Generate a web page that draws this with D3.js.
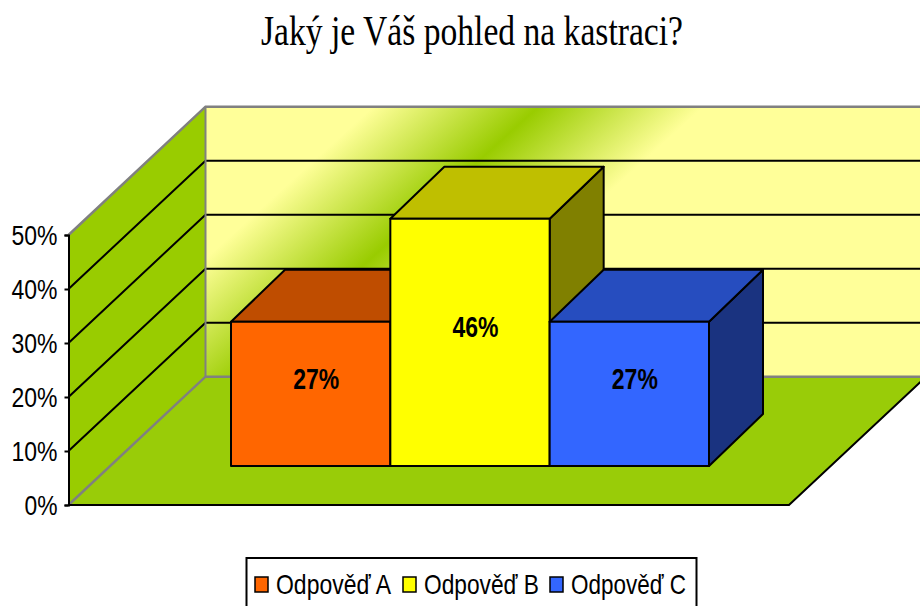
<!DOCTYPE html>
<html><head><meta charset="utf-8">
<script src="https://cdnjs.cloudflare.com/ajax/libs/d3/7.8.5/d3.min.js"></script>
<style>html,body{margin:0;padding:0;background:#fff;overflow:hidden}svg{display:block}</style>
</head><body><div id="c"></div>
<script>
const title = "Jaký je Váš pohled na kastraci?";
const categories = ["Odpověď A", "Odpověď B", "Odpověď C"];
const values = [26.7, 45.8, 26.7];
const labels = ["27%", "46%", "27%"];
const ticks = [0, 10, 20, 30, 40, 50];
const front = ["#FF6600", "#FFFF00", "#3366FF"];
const topC = ["#BF4D00", "#BFBF00", "#264DBF"];
const side = ["#802600", "#808000", "#1A3380"];

const W = 920, H = 606;
const svg = d3.select("#c").append("svg").attr("width", W).attr("height", H);
const defs = svg.append("defs");
const g = defs.append("linearGradient").attr("id", "wall").attr("gradientUnits", "userSpaceOnUse")
  .attr("x1", 462.5).attr("y1", 25.8).attr("x2", 611.5).attr("y2", 190.2);
[[0, "#FFFF99"], [0.5, "#99CC00"], [1, "#FFFF99"]].forEach(s => g.append("stop").attr("offset", s[0]).attr("stop-color", s[1]));

const y = d3.scaleLinear().domain([0, 50]).range([505, 235]);
const wallDx = 137, wallDy = -128.3, plotL = 68.5, plotR = 789;
const x = d3.scaleBand().domain(categories).range([231, 709]);
const barBase = 466, barDx = 54, barDy = -52;
const poly = p => p.map(d => d.join(",")).join(" ");
const stretched = (sel, len) => sel.attr("textLength", len).attr("lengthAdjust", "spacingAndGlyphs");

// title
stretched(svg.append("text").attr("x", 472).attr("y", 45).attr("text-anchor", "middle")
  .attr("font-family", "Liberation Serif").attr("font-size", 42).attr("fill", "#000").text(title), 422);

// back wall, side wall, floor
const yT = y(50), y0 = y(0);
svg.append("polygon").attr("points", poly([[plotL + wallDx, y0 + wallDy], [W + 10, y0 + wallDy], [W + 10, yT + wallDy], [plotL + wallDx, yT + wallDy]]))
  .attr("fill", "url(#wall)");
svg.append("polygon").attr("points", poly([[plotL, y0], [plotL + wallDx, y0 + wallDy], [plotL + wallDx, yT + wallDy], [plotL, yT]]))
  .attr("fill", "#99CC00");
svg.append("polygon").attr("points", poly([[plotL, y0], [plotR, y0], [plotR + wallDx, y0 + wallDy], [plotL + wallDx, y0 + wallDy]]))
  .attr("fill", "#99CC08");

// gridlines
ticks.slice(1, -1).forEach(t => {
  svg.append("polyline").attr("points", poly([[plotL, y(t)], [plotL + wallDx, y(t) + wallDy], [W + 10, y(t) + wallDy]]))
    .attr("fill", "none").attr("stroke", "#000").attr("stroke-width", 2);
});
// grey frame
svg.append("polyline").attr("points", poly([[plotL, yT], [plotL + wallDx, yT + wallDy], [W + 10, yT + wallDy]]))
  .attr("fill", "none").attr("stroke", "#808080").attr("stroke-width", 2.5);
svg.append("polyline").attr("points", poly([[plotL, y0], [plotL + wallDx, y0 + wallDy], [W + 10, y0 + wallDy]]))
  .attr("fill", "none").attr("stroke", "#808080").attr("stroke-width", 2.5);
svg.append("line").attr("x1", plotL + wallDx).attr("x2", plotL + wallDx).attr("y1", y0 + wallDy).attr("y2", yT + wallDy)
  .attr("stroke", "#808080").attr("stroke-width", 2);
// floor edges
svg.append("polyline").attr("points", poly([[plotL, y0], [plotR, y0], [plotR + wallDx, y0 + wallDy]]))
  .attr("fill", "none").attr("stroke", "#000").attr("stroke-width", 2);

// y axis
const axis = d3.axisLeft(y).tickValues(ticks).tickSize(4).tickFormat(d => d + "%");
const ax = svg.append("g").attr("transform", `translate(${plotL},0)`).call(axis);
ax.select(".domain").attr("stroke", "#000").attr("stroke-width", 2);
ax.selectAll(".tick line").attr("stroke", "#000").attr("stroke-width", 2);
ax.selectAll(".tick text").attr("font-family", "Liberation Sans").attr("font-size", 28).attr("fill", "#000")
  .attr("x", -11).attr("dy", "0.34em")
  .attr("textLength", d => d === 0 ? 33 : 46).attr("lengthAdjust", "spacingAndGlyphs");

// bars
categories.forEach((c, i) => {
  const l = x(c), r = l + x.bandwidth(), h = y0 - y(values[i]), t = barBase - h;
  const b = svg.append("g").attr("stroke", "#000").attr("stroke-width", 2).attr("stroke-linejoin", "round");
  b.append("polygon").attr("points", poly([[r, barBase], [r + barDx, barBase + barDy], [r + barDx, t + barDy], [r, t]])).attr("fill", side[i]);
  b.append("polygon").attr("points", poly([[l, t], [r, t], [r + barDx, t + barDy], [l + barDx, t + barDy]])).attr("fill", topC[i]);
  b.append("rect").attr("x", l).attr("y", t).attr("width", r - l).attr("height", h).attr("fill", front[i]);
});
categories.forEach((c, i) => {
  const h = y0 - y(values[i]), t = barBase - h;
  stretched(svg.append("text").attr("x", x(c) + x.bandwidth() / 2 + 5.5).attr("y", (t + barBase) / 2 - 5)
    .attr("text-anchor", "middle").attr("font-family", "Liberation Sans").attr("font-weight", "bold")
    .attr("font-size", 30).attr("fill", "#000").text(labels[i]), 46);
});

// legend
svg.append("rect").attr("x", 246.5).attr("y", 558).attr("width", 450).attr("height", 60)
  .attr("fill", "#fff").attr("stroke", "#000").attr("stroke-width", 2);
const legX = [255, 403, 550];
categories.forEach((c, i) => {
  svg.append("rect").attr("x", legX[i]).attr("y", 577).attr("width", 13).attr("height", 15)
    .attr("fill", front[i]).attr("stroke", "#000").attr("stroke-width", 1.5);
  stretched(svg.append("text").attr("x", legX[i] + 21).attr("y", 594).attr("font-family", "Liberation Sans")
    .attr("font-size", 28).attr("fill", "#000").text(c), 115);
});
</script></body></html>
